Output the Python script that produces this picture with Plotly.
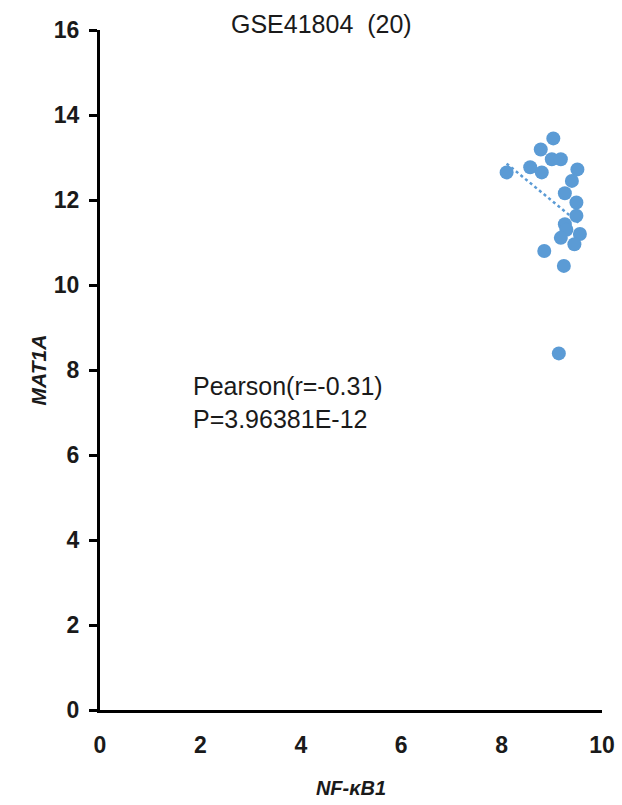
import numpy as np
import plotly.graph_objects as go

title_text = "GSE41804  (20)"
x_label = "NF-κB1"
y_label = "MAT1A"
stat_lines = ["Pearson(r=-0.31)", "P=3.96381E-12"]

nfkb1 = [9.03, 8.78, 9.00, 9.18, 8.57, 8.80, 8.10, 9.51, 9.40, 9.26,
         9.49, 9.49, 9.26, 9.29, 9.56, 9.18, 9.45, 8.85, 9.24, 9.14]
mat1a = [13.45, 13.19, 12.96, 12.96, 12.77, 12.65, 12.65, 12.72, 12.45, 12.16,
         11.94, 11.63, 11.43, 11.30, 11.20, 11.11, 10.96, 10.80, 10.45, 8.39]

x_ticks = [0, 2, 4, 6, 8, 10]
y_ticks = [0, 2, 4, 6, 8, 10, 12, 14, 16]

blue = "#5B9BD5"
ink = "#1a1a1a"
font = "Liberation Sans, Arial, sans-serif"

W, H = 622, 805
ML, MR, MT, MB = 100, 20, 30, 95
PW, PH = W - ML - MR, H - MT - MB

def px_x(p):
    return (p - ML) / PW

def px_y(p):
    return 1 - (p - MT) / PH

xs = np.array(nfkb1)
ys = np.array(mat1a)
slope, intercept = np.polyfit(xs, ys, 1)
tx = np.array([xs.min(), xs.max()])
ty = slope * tx + intercept

fig = go.Figure()
fig.add_trace(go.Scatter(x=tx, y=ty, mode="lines",
                         line=dict(color=blue, width=2.5, dash="dot"),
                         showlegend=False, hoverinfo="skip"))
fig.add_trace(go.Scatter(x=nfkb1, y=mat1a, mode="markers",
                         marker=dict(color=blue, size=14, line=dict(width=0)),
                         showlegend=False))

fig.add_annotation(x=px_x(191), y=px_y(402), xref="paper", yref="paper",
                   xanchor="left", yanchor="middle", align="left",
                   text="<br>".join(stat_lines), showarrow=False,
                   font=dict(family=font, size=25, color=ink))

fig.add_annotation(x=px_x(321), y=px_y(24), xref="paper", yref="paper", text=title_text,
                   xanchor="center", yanchor="middle", showarrow=False,
                   font=dict(family=font, size=25, color=ink))

fig.update_layout(
    width=W, height=H,
    margin=dict(l=ML, r=MR, t=MT, b=MB, autoexpand=False),
    paper_bgcolor="white", plot_bgcolor="white",
    showlegend=False,
)

fig.update_xaxes(range=[0, 10], tickvals=x_ticks, ticktext=[str(v) for v in x_ticks],
                 showline=True, linecolor="black", linewidth=3, showgrid=False,
                 zeroline=False, ticks="", ticklabelstandoff=12, automargin=False,
                 tickfont=dict(family=font, size=23, color=ink, weight="bold"),
                 title=dict(text="<i><b>" + x_label + "</b></i>", standoff=25,
                            font=dict(family=font, size=20, color=ink)))
fig.update_yaxes(range=[0, 16], tickvals=y_ticks, ticktext=[str(v) for v in y_ticks],
                 showline=True, linecolor="black", linewidth=3, showgrid=False,
                 zeroline=False, ticks="outside", ticklen=8, tickwidth=2.5, tickcolor="black",
                 ticklabelstandoff=5, automargin=False,
                 tickfont=dict(family=font, size=23, color=ink, weight="bold"),
                 title=dict(text="<i><b>" + y_label + "</b></i>", standoff=2,
                            font=dict(family=font, size=21, color=ink)))

fig.write_html("out.html")
